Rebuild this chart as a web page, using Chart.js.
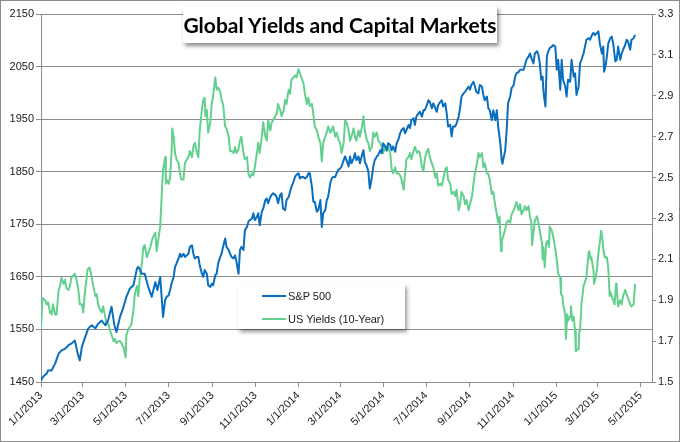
<!DOCTYPE html>
<html>
<head>
<meta charset="utf-8">
<title>Global Yields and Capital Markets</title>
<script src="https://cdn.jsdelivr.net/npm/chart.js@4.4.1/dist/chart.umd.min.js"></script>
<style>
    body { margin: 0; background: #fff; }
    .chartFrame { position: relative; width: 680px; height: 442px; overflow: hidden; background: #fff; }
    .chartFrame canvas { position: absolute; left: 0; top: 0; }
    .outerBorder { position: absolute; left: 0; top: 0; right: 0; bottom: 0; border: 1px solid #8a8a8a; pointer-events: none; }
    .titleBox {
        position: absolute; left: 183px; top: 6px; width: 314px; height: 37px;
        background: #fff; box-shadow: 2px 3px 4px rgba(0, 0, 0, 0.45);
        font: bold 21px Lato, "Open Sans", sans-serif; color: #000;
        text-align: center; line-height: 37px; white-space: nowrap;
    }
    .legendBox {
        position: absolute; left: 238px; top: 284px; width: 167px; height: 45px;
        background: #fff; box-shadow: 2px 3px 4px rgba(0, 0, 0, 0.4);
        font: 11px "Liberation Sans", Arial, sans-serif; color: #222;
    }
    .legendRow { position: absolute; left: 24px; height: 14px; display: flex; align-items: center; white-space: nowrap; }
    .legendLine { width: 24px; height: 2px; margin-right: 2px; }
</style>
</head>
<body>
<div class="chartFrame" id="ChartFrame">
    <canvas id="chartCanvas"></canvas>
    <div class="titleBox">Global Yields and Capital Markets</div>
    <div class="legendBox" id="LegendContainer"></div>
    <div class="outerBorder"></div>
</div>
<script>
// x values are calendar days counted from 1/1/2013
const xTickDays = [0, 59, 120, 181, 243, 304, 365, 424, 485, 546, 608, 669, 730, 789, 850];
const xTickLabels = ['1/1/2013', '3/1/2013', '5/1/2013', '7/1/2013', '9/1/2013', '11/1/2013',
    '1/1/2014', '3/1/2014', '5/1/2014', '7/1/2014', '9/1/2014', '11/1/2014',
    '1/1/2015', '3/1/2015', '5/1/2015'];
const xMaxDay = 866;

const spTicks = [1450, 1550, 1650, 1750, 1850, 1950, 2050, 2150];
const yieldTicks = [1.5, 1.7, 1.9, 2.1, 2.3, 2.5, 2.7, 2.9, 3.1, 3.3];

// S&P 500 close
const spDays = [0, 3, 8, 10, 15, 20, 25, 29, 34, 39, 43, 48, 52, 55, 58, 62, 67, 72, 77, 81, 86, 91, 95, 100, 104, 107, 112, 117, 121, 126, 131, 136, 138, 143, 147, 152, 157, 162, 165, 169,
    173, 176, 178, 181, 183, 185, 188, 190, 192, 195, 197, 199, 202, 204, 209, 211, 214, 216, 218, 221, 223, 225, 228, 230, 232, 235, 237, 240, 242, 244, 247, 249, 251, 254, 256, 258,
    261, 263, 266, 268, 270, 273, 275, 277, 280, 282, 284, 287, 289, 292, 294, 296, 299, 301, 303, 306, 308, 310, 313, 315, 318, 320, 322, 325, 327, 329, 332, 334, 336, 339, 341,
    343, 346, 348, 351, 353, 355, 358, 360, 362, 365, 367, 369, 372, 374, 377, 379, 381, 384, 386, 388, 391, 393, 396, 398, 400, 403, 405, 407, 410, 412, 414, 417, 419, 421, 424, 426,
    429, 431, 433, 436, 438, 440, 443, 445, 447, 450, 452, 455, 457, 459, 462, 464, 466, 469, 471, 473, 476, 478, 481, 483, 485, 488, 490, 492, 495, 497, 499, 502, 504, 507, 509, 511, 514,
    516, 518, 521, 523, 525, 528, 530, 532, 535, 537, 540, 542, 544, 547, 549, 551, 554, 556, 558, 561, 563, 566, 568, 570, 573, 575, 577, 580, 582, 584, 587, 589, 592, 594, 596, 599,
    601, 603, 606, 608, 610, 613, 615, 617, 620, 622, 625, 627, 629, 632, 634, 636, 639, 641, 644, 646, 648, 651, 653, 654, 658, 660, 662, 665, 667, 670, 672, 674, 677, 679, 681,
    684, 686, 688, 691, 693, 695, 698, 700, 703, 705, 707, 709, 711, 712, 713, 715, 717, 719, 721, 724, 726, 729, 731, 733, 736, 738, 740, 743, 745, 747, 750, 752, 755, 757, 759, 762,
    764, 766, 769, 771, 773, 776, 778, 781, 783, 785, 788, 790, 792, 795, 797, 798, 800, 802, 804, 807, 809, 811, 814, 816, 818, 821, 823, 825, 828, 830, 832, 835, 837, 840, 842];
const spClose = [1453, 1460, 1466, 1472, 1472, 1485, 1504, 1510, 1513, 1520, 1523, 1529, 1504, 1491, 1517, 1533, 1552, 1558, 1552, 1561, 1567, 1558, 1567, 1593, 1558, 1545, 1574, 1593, 1612, 1628, 1634, 1666, 1669, 1656, 1656, 1631, 1612, 1640, 1625, 1650,
    1574, 1606, 1612, 1615, 1625, 1637, 1650, 1669, 1675, 1685, 1694, 1688, 1694, 1688, 1694, 1707, 1710, 1694, 1685, 1688, 1688, 1672, 1656, 1650, 1663, 1656, 1634, 1631, 1637, 1634, 1653, 1656, 1675, 1688, 1694, 1707,
    1723, 1707, 1701, 1694, 1688, 1685, 1691, 1679, 1656, 1701, 1707, 1701, 1739, 1745, 1755, 1758, 1761, 1771, 1758, 1764, 1771, 1748, 1774, 1780, 1796, 1799, 1790, 1802, 1806, 1809, 1806, 1802, 1790, 1806, 1809,
    1780, 1777, 1796, 1802, 1812, 1821, 1831, 1840, 1844, 1847, 1837, 1840, 1840, 1837, 1840, 1847, 1847, 1821, 1793, 1793, 1774, 1777, 1796, 1745, 1771, 1777, 1796, 1802, 1828, 1837, 1840, 1840, 1847, 1853, 1856, 1860,
    1872, 1879, 1872, 1860, 1879, 1866, 1875, 1885, 1872, 1879, 1866, 1882, 1891, 1869, 1860, 1850, 1818, 1840, 1860, 1872, 1879, 1882, 1891, 1885, 1904, 1898, 1891, 1904, 1901, 1891, 1898, 1888, 1904, 1913, 1923, 1929, 1933,
    1923, 1929, 1939, 1933, 1948, 1952, 1939, 1955, 1961, 1964, 1955, 1967, 1967, 1977, 1986, 1983, 1971, 1980, 1974, 1964, 1977, 1983, 1986, 1974, 1980, 1961, 1936, 1939, 1917, 1936, 1936, 1942, 1955, 1971, 1993, 1999,
    2002, 2006, 2012, 2006, 2015, 2021, 2012, 2002, 1999, 2015, 2012, 1996, 1986, 1993, 1971, 1967, 1948, 1967, 1948, 1967, 1936, 1904, 1872, 1865, 1891, 1929, 1980, 1993, 2009, 2015, 2031, 2037, 2040, 2044, 2044,
    2044, 2053, 2063, 2069, 2075, 2066, 2056, 2075, 2079, 2072, 2056, 2025, 2031, 2006, 1993, 1974, 2069, 2079, 2085, 2088, 2091, 2088, 2044, 2063, 2006, 2063, 2025, 2012, 1993, 2025, 2021, 2063, 2031, 2037, 1996, 2012,
    2056, 2063, 2075, 2088, 2101, 2104, 2101, 2110, 2114, 2110, 2114, 2117, 2094, 2075, 2088, 2040, 2050, 2069, 2094, 2104, 2107, 2094, 2060, 2063, 2088, 2063, 2075, 2082, 2091, 2101, 2098, 2082, 2101, 2104, 2110];

// US 10-year Treasury yield, percent
const yieldDays = [0, 2, 6, 8, 10, 13, 15, 17, 20, 22, 25, 27, 29, 32, 34, 36, 39, 41, 43, 48, 51, 53, 55, 58, 60, 62, 66, 69, 72, 74, 77, 79, 81, 84, 86, 88, 91, 93, 95, 98, 100, 103, 105, 107, 110, 112, 114, 117, 120,
    121, 124, 128, 131, 133, 136, 138, 140, 143, 145, 147, 150, 152, 155, 157, 159, 162, 164, 166, 169, 171, 173, 176, 177, 178, 181, 183, 185, 186, 188, 190, 192, 195, 197, 199, 202, 204, 207, 209, 211, 214, 216, 218,
    221, 223, 225, 228, 230, 232, 233, 235, 237, 240, 242, 244, 247, 249, 251, 254, 256, 258, 261, 263, 266, 268, 270, 273, 275, 277, 280, 282, 284, 287, 289, 292, 294, 296, 299, 301, 303, 306, 308, 310, 313, 315,
    318, 320, 322, 325, 327, 329, 332, 334, 336, 339, 341, 344, 346, 348, 351, 353, 355, 358, 360, 362, 365, 367, 370, 372, 374, 377, 379, 381, 384, 386, 388, 391, 393, 396, 398, 400, 403, 405, 407, 410, 412, 414,
    417, 419, 422, 424, 426, 429, 431, 433, 436, 438, 440, 443, 445, 447, 450, 452, 455, 457, 459, 462, 464, 466, 469, 471, 473, 476, 478, 481, 483, 485, 488, 490, 492, 495, 497, 499, 502, 504, 507, 509, 511, 514,
    516, 518, 521, 523, 525, 528, 530, 533, 535, 537, 540, 542, 544, 547, 549, 551, 554, 556, 559, 561, 563, 566, 568, 570, 573, 575, 577, 580, 582, 585, 587, 589, 592, 594, 596, 599, 601, 603, 606, 608, 611, 613,
    615, 618, 620, 622, 625, 627, 629, 632, 634, 636, 639, 641, 644, 646, 648, 650, 652, 653, 655, 658, 660, 662, 665, 667, 670, 672, 674, 677, 679, 681, 684, 686, 688, 691, 693, 695, 696, 698, 700, 703, 705, 707,
    710, 711, 712, 714, 716, 718, 720, 721, 724, 726, 729, 731, 733, 736, 737, 739, 740, 743, 744, 746, 747, 750, 751, 753, 755, 757, 758, 760, 762, 763, 764, 766, 769, 771, 773, 776, 777, 779, 780, 783, 784, 786,
    788, 790, 792, 794, 796, 797, 799, 802, 804, 806, 807, 809, 811, 813, 815, 816, 818, 821, 823, 825, 828, 830, 833, 835, 837, 840, 842];
const yieldValues = [1.76, 1.91, 1.90, 1.88, 1.89, 1.84, 1.83, 1.88, 1.83, 1.83, 1.95, 1.97, 2.01, 1.98, 2.00, 1.96, 1.95, 1.97, 2.01, 2.03, 1.99, 1.95, 1.88, 1.88, 1.84, 1.93, 2.05, 2.06, 2.01, 1.97, 1.92, 1.93, 1.88, 1.85, 1.84, 1.87, 1.82, 1.78, 1.79, 1.75, 1.73, 1.70, 1.71, 1.69, 1.70, 1.70, 1.69, 1.67, 1.62,
    1.73, 1.76, 1.78, 1.85, 1.93, 1.97, 1.92, 2.01, 2.08, 2.16, 2.17, 2.11, 2.13, 2.16, 2.19, 2.21, 2.23, 2.14, 2.19, 2.26, 2.41, 2.54, 2.60, 2.47, 2.49, 2.47, 2.50, 2.62, 2.74, 2.70, 2.62, 2.59, 2.57, 2.52, 2.49, 2.49, 2.57, 2.59, 2.60, 2.63, 2.60, 2.65, 2.67,
    2.62, 2.60, 2.73, 2.83, 2.88, 2.89, 2.80, 2.83, 2.72, 2.77, 2.86, 2.90, 2.99, 2.93, 2.94, 2.92, 2.88, 2.86, 2.75, 2.74, 2.70, 2.63, 2.63, 2.62, 2.65, 2.62, 2.64, 2.68, 2.70, 2.62, 2.59, 2.60, 2.52, 2.50, 2.52, 2.51, 2.55, 2.62, 2.67, 2.62, 2.70, 2.77,
    2.70, 2.68, 2.78, 2.73, 2.77, 2.78, 2.80, 2.81, 2.86, 2.83, 2.80, 2.83, 2.88, 2.86, 2.93, 2.91, 2.98, 2.99, 3.00, 2.99, 3.03, 3.01, 2.98, 2.96, 2.91, 2.86, 2.89, 2.85, 2.86, 2.81, 2.75, 2.73, 2.70, 2.67, 2.58, 2.67, 2.70, 2.72, 2.75, 2.72, 2.73, 2.75,
    2.70, 2.72, 2.68, 2.67, 2.62, 2.67, 2.78, 2.77, 2.73, 2.68, 2.70, 2.74, 2.70, 2.68, 2.73, 2.70, 2.75, 2.80, 2.73, 2.68, 2.67, 2.63, 2.65, 2.72, 2.70, 2.72, 2.68, 2.67, 2.65, 2.62, 2.65, 2.63, 2.65, 2.62, 2.54, 2.52, 2.55, 2.52, 2.52, 2.51, 2.49, 2.44,
    2.52, 2.59, 2.60, 2.62, 2.59, 2.63, 2.65, 2.62, 2.63, 2.62, 2.55, 2.53, 2.59, 2.63, 2.64, 2.60, 2.57, 2.55, 2.50, 2.52, 2.46, 2.47, 2.46, 2.49, 2.54, 2.55, 2.49, 2.47, 2.42, 2.43, 2.41, 2.44, 2.34, 2.37, 2.43, 2.41, 2.37, 2.39, 2.34, 2.37, 2.41, 2.47,
    2.52, 2.57, 2.62, 2.60, 2.62, 2.55, 2.57, 2.52, 2.52, 2.49, 2.42, 2.43, 2.36, 2.32, 2.28, 2.31, 2.14, 2.19, 2.21, 2.25, 2.28, 2.29, 2.28, 2.32, 2.34, 2.36, 2.38, 2.34, 2.37, 2.32, 2.34, 2.36, 2.34, 2.36, 2.31, 2.28, 2.17, 2.23, 2.29, 2.31, 2.28, 2.24,
    2.18, 2.10, 2.16, 2.06, 2.18, 2.19, 2.16, 2.26, 2.24, 2.21, 2.15, 2.10, 2.03, 2.01, 1.93, 1.92, 1.88, 1.83, 1.71, 1.83, 1.80, 1.82, 1.87, 1.80, 1.82, 1.75, 1.65, 1.66, 1.66, 1.75, 1.75, 1.88, 1.97, 1.99, 2.01, 2.13, 2.14, 2.10, 2.11, 2.05, 1.98, 2.01,
    2.05, 2.13, 2.18, 2.24, 2.19, 2.15, 2.11, 2.11, 2.06, 1.92, 1.94, 1.92, 1.90, 1.88, 1.98, 1.96, 1.87, 1.90, 1.88, 1.92, 1.95, 1.93, 1.90, 1.88, 1.87, 1.88, 1.98];

const spColor = '#0a6ebf';
const yieldColor = '#63d08f';
const gridColor = '#8c8c8c';
const tickFont = { family: '"Liberation Sans", Arial, sans-serif', size: 11 };
const tickColor = '#1a1a1a';

// Function to pair a day array with a value array for the line dataset
function buildPoints(days, values) {
    try {
        return days.map((d, i) => ({ x: d, y: values[i] }));
    } catch (e) {
        console.error(e);
        return [];
    }
}

// Function to add the legend rows, using the dataset colours and labels
function addLegend(datasets) {
    try {
        let legendContainer = document.querySelector('#LegendContainer');
        let rowTops = [5, 28];
        let legendUi = '';
        datasets.forEach((ds, i) => {
            legendUi += `
            <div class="legendRow" style="top:${rowTops[i]}px">
                <div class="legendLine" style="background:${ds.borderColor}"></div>
                <span>${ds.label.replace('&', '&amp;')}</span>
            </div>`;
        });
        if (legendContainer != undefined) {
            legendContainer.innerHTML = legendUi;
        }
    } catch (e) {
        console.error(e);
    }
}

let chart;

// Function to draw the chart
function loadChart() {
    try {
        const ctx = document.getElementById('chartCanvas').getContext('2d');

        const datasets = [
            {
                label: 'S&P 500',
                data: buildPoints(spDays, spClose),
                yAxisID: 'ySp',
                borderColor: spColor,
                borderWidth: 2,
                pointRadius: 0,
                tension: 0,
                borderJoinStyle: 'round'
            },
            {
                label: 'US Yields (10-Year)',
                data: buildPoints(yieldDays, yieldValues),
                yAxisID: 'yYield',
                borderColor: yieldColor,
                borderWidth: 2,
                pointRadius: 0,
                tension: 0,
                borderJoinStyle: 'round'
            }
        ];

        chart = new Chart(ctx, {
            type: 'line',
            data: { datasets: datasets },
            options: {
                responsive: true,
                maintainAspectRatio: false,
                devicePixelRatio: 1,
                animation: false,
                layout: { padding: { top: 14, left: 0, right: 0, bottom: 0 } },
                plugins: {
                    legend: { display: false },
                    tooltip: { enabled: false }
                },
                scales: {
                    x: {
                        type: 'linear',
                        min: 0,
                        max: xMaxDay,
                        afterBuildTicks: (axis) => { axis.ticks = xTickDays.map(v => ({ value: v })); },
                        afterFit: (axis) => { axis.height = 60; },
                        ticks: {
                            autoSkip: false,
                            minRotation: 45,
                            maxRotation: 45,
                            padding: 2,
                            font: tickFont,
                            color: tickColor,
                            callback: (v) => xTickLabels[xTickDays.indexOf(v)]
                        },
                        grid: { drawOnChartArea: false, drawTicks: true, tickLength: 5, color: gridColor },
                        border: { color: gridColor }
                    },
                    ySp: {
                        position: 'left',
                        min: spTicks[0],
                        max: spTicks[spTicks.length - 1],
                        afterBuildTicks: (axis) => { axis.ticks = spTicks.map(v => ({ value: v })); },
                        afterFit: (axis) => { axis.width = 41; },
                        ticks: { font: tickFont, color: tickColor, padding: 2, callback: (v) => String(v) },
                        grid: { color: gridColor, tickLength: 5 },
                        border: { color: gridColor }
                    },
                    yYield: {
                        position: 'right',
                        min: yieldTicks[0],
                        max: yieldTicks[yieldTicks.length - 1],
                        afterBuildTicks: (axis) => { axis.ticks = yieldTicks.map(v => ({ value: v })); },
                        afterFit: (axis) => { axis.width = 28; },
                        ticks: { font: tickFont, color: tickColor, padding: 2, callback: (v) => v.toFixed(1) },
                        grid: { drawOnChartArea: false, color: gridColor, tickLength: 4 },
                        border: { color: gridColor }
                    }
                }
            }
        });

        addLegend(datasets);
    } catch (e) {
        console.error(e);
    }
}

loadChart();
</script>
</body>
</html>
